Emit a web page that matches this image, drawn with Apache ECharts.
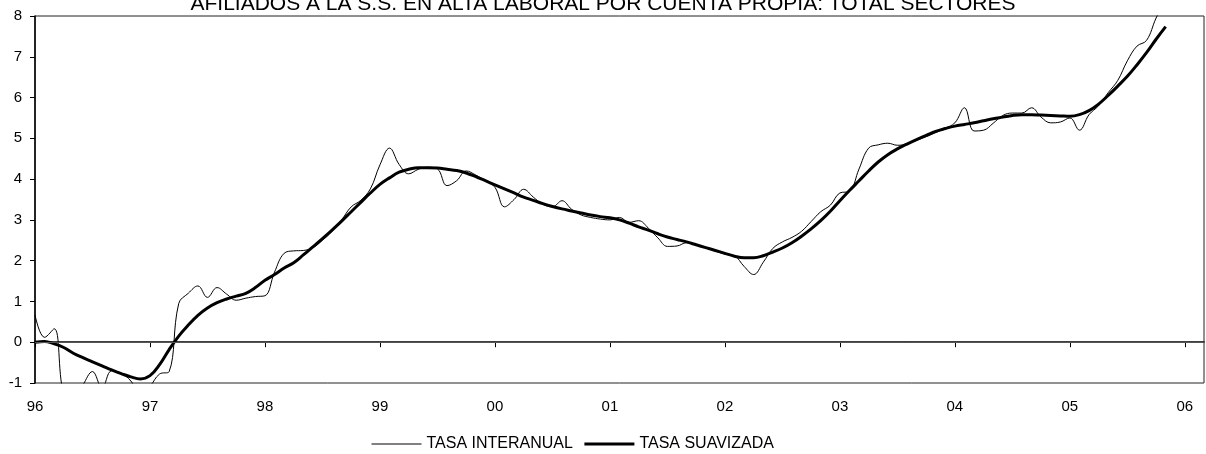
<!DOCTYPE html>
<html>
<head>
<meta charset="utf-8">
<script src="https://cdn.jsdelivr.net/npm/echarts@6/dist/echarts.min.js"></script>
<style>
  html, body { margin: 0; padding: 0; background: #fff; }
  #chart { width: 1206px; height: 454px; }
</style>
</head>
<body>
<div id="chart"></div>
<script>
// Year tick labels (January of each year)
const yearLabels = ['96', '97', '98', '99', '00', '01', '02', '03', '04', '05', '06'];
const monthCount = 123; // Jan 1996 .. Mar 2006 on the axis

// Monthly year-on-year rate, Jan 1996 - Nov 2005
const tasaInteranual = [
  0.67, 0.12, 0.33, -1.30, -1.45, -1.05, -0.72, -1.12, -0.70, -0.76, -0.95, -1.30,
  -1.08, -0.78, -0.72, 0.95, 1.20, 1.38, 1.10, 1.34, 1.18, 1.03, 1.08, 1.12,
  1.14, 1.72, 2.18, 2.24, 2.25, 2.32, 2.50, 2.72, 3.00, 3.32, 3.48, 3.76,
  4.35, 4.76, 4.36, 4.13, 4.24, 4.29, 4.25, 3.84, 3.96, 4.20, 4.10, 3.96,
  3.80, 3.32, 3.50, 3.75, 3.56, 3.38, 3.32, 3.47, 3.26, 3.12, 3.06, 3.02,
  3.00, 3.06, 2.94, 2.98, 2.80, 2.56, 2.35, 2.36, 2.44, 2.38, 2.32, 2.24,
  2.16, 2.12, 1.86, 1.66, 1.96, 2.30, 2.46, 2.57, 2.72, 2.96, 3.20, 3.36,
  3.66, 3.70, 4.25, 4.76, 4.84, 4.88, 4.83, 4.86, 4.95, 5.04, 5.14, 5.25,
  5.38, 5.75, 5.18, 5.20, 5.37, 5.56, 5.62, 5.62, 5.75, 5.52, 5.38, 5.40,
  5.50, 5.20, 5.58, 5.80, 6.12, 6.42, 6.90, 7.26, 7.40, 7.95, 8.40
];

// Monthly smoothed rate, Jan 1996 - Nov 2005
const tasaSuavizada = [
  0.00, 0.02, -0.04, -0.13, -0.27, -0.38, -0.48, -0.58, -0.68, -0.77, -0.85, -0.90,
  -0.82, -0.55, -0.18, 0.15, 0.42, 0.66, 0.84, 0.97, 1.06, 1.13, 1.20, 1.34,
  1.52, 1.66, 1.82, 1.95, 2.14, 2.34, 2.54, 2.75, 2.97, 3.20, 3.43, 3.66,
  3.87, 4.03, 4.17, 4.24, 4.28, 4.28, 4.27, 4.24, 4.21, 4.15, 4.06, 3.96,
  3.86, 3.76, 3.66, 3.56, 3.48, 3.40, 3.33, 3.27, 3.22, 3.17, 3.12, 3.08,
  3.05, 3.00, 2.92, 2.83, 2.75, 2.66, 2.58, 2.52, 2.46, 2.39, 2.32, 2.25,
  2.18, 2.11, 2.07, 2.07, 2.12, 2.21, 2.31, 2.44, 2.60, 2.78, 2.98, 3.21,
  3.47, 3.72, 3.96, 4.20, 4.42, 4.60, 4.74, 4.86, 4.97, 5.07, 5.17, 5.24,
  5.30, 5.34, 5.38, 5.43, 5.48, 5.52, 5.56, 5.58, 5.58, 5.57, 5.56, 5.55,
  5.54, 5.58, 5.68, 5.84, 6.05, 6.28, 6.52, 6.80, 7.10, 7.43, 7.74
];

// Month categories: "96-1", "96-2", ...
const months = [];
for (const y of yearLabels) {
  for (let m = 1; m <= 12; m++) months.push(y + '-' + m);
}
const categories = months.slice(0, monthCount);
const isJanuary = (idx) => idx % 12 === 0;

const FONT = '"Liberation Sans", Arial, sans-serif';

const chart = echarts.init(document.getElementById('chart'), null, { renderer: 'canvas' });
chart.setOption({
  animation: false,
  backgroundColor: '#fff',
  title: {
    text: 'AFILIADOS A LA S.S. EN ALTA LABORAL POR CUENTA PROPIA: TOTAL SECTORES',
    left: 'center',
    top: -11,
    textStyle: { fontFamily: FONT, fontSize: 21, fontWeight: 'normal', color: '#000' }
  },
  legend: {
    left: 366,
    top: 431,
    itemWidth: 50,
    itemHeight: 14,
    itemGap: 10,
    itemStyle: { opacity: 0 },
    textStyle: { fontFamily: FONT, fontSize: 16, color: '#000' },
    data: [
      { name: 'TASA INTERANUAL', lineStyle: { width: 1, color: '#000' } },
      { name: 'TASA SUAVIZADA', lineStyle: { width: 3, color: '#000' } }
    ]
  },
  grid: {
    left: 35, right: 2, top: 16, bottom: 71,
    show: true, borderColor: '#222', borderWidth: 1, backgroundColor: 'transparent'
  },
  xAxis: {
    type: 'category',
    data: categories,
    boundaryGap: false,
    axisLine: { lineStyle: { color: '#000', width: 1.5 } },
    axisTick: { show: true, interval: (idx) => isJanuary(idx), length: 5, lineStyle: { color: '#000' } },
    axisLabel: {
      interval: (idx) => isJanuary(idx),
      formatter: (v) => v.split('-')[0],
      margin: 16,
      fontFamily: FONT, fontSize: 15, color: '#000'
    },
    splitLine: { show: false }
  },
  yAxis: {
    type: 'value',
    min: -1, max: 8, interval: 1,
    axisLine: { show: true, lineStyle: { color: '#000', width: 1.5 } },
    axisTick: { show: true, length: 5, lineStyle: { color: '#000' } },
    axisLabel: { margin: 13, fontFamily: FONT, fontSize: 15, color: '#000' },
    splitLine: { show: false }
  },
  series: [
    {
      name: 'TASA INTERANUAL',
      type: 'line',
      data: tasaInteranual,
      smooth: 0.4,
      symbol: 'none',
      clip: true,
      lineStyle: { color: '#000', width: 1 },
      itemStyle: { color: '#000' },
      markLine: {
        silent: true,
        symbol: ['none', 'none'],
        label: { show: false },
        lineStyle: { color: '#555', width: 1, type: 'solid' },
        data: [{ yAxis: 0 }]
      },
      z: 2
    },
    {
      name: 'TASA SUAVIZADA',
      type: 'line',
      data: tasaSuavizada,
      smooth: 0.4,
      symbol: 'none',
      clip: true,
      lineStyle: { color: '#000', width: 3 },
      itemStyle: { color: '#000' },
      z: 3
    }
  ]
});
</script>
</body>
</html>
